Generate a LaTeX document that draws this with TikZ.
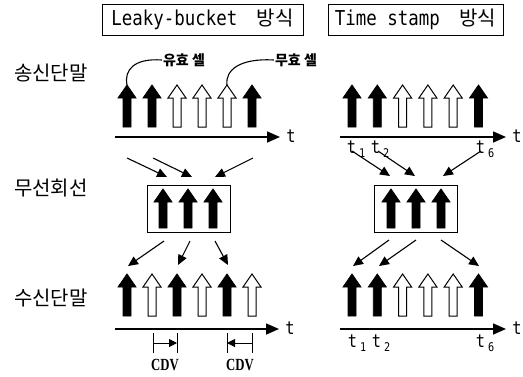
\documentclass[tikz,border=0pt]{standalone}
\usepackage{fontspec}
\usetikzlibrary{arrows.meta,calc}
\newfontfamily\kr{Noto Sans CJK KR}
\newfontfamily\monof[FakeStretch=0.85]{DejaVu Sans Mono}
\newfontfamily\cdvf[FakeStretch=0.75]{Liberation Serif}
\newcommand{\cellh}{42}
\newcommand{\tsub}[1]{t\,\raisebox{-4pt}{\fontsize{12}{12}\selectfont #1}}
\tikzset{
  pics/cell/.style={code={\path[pic actions] (0,0) -- (9,13) -- (4,13) -- (4,\cellh) -- (-4,\cellh) -- (-4,13) -- (-9,13) -- cycle;}},
  full/.style={fill=black,draw=black,line width=0.8pt,line join=miter},
  hollow/.style={fill=white,draw=black,line width=1pt,line join=miter},
  axis/.style={line width=1.6pt,-{Triangle[length=13pt,width=11pt]}},
  feed/.style={line width=1.1pt,-{Triangle[length=10pt,width=9pt]}},
  cdv/.style={line width=1pt,-{Triangle[length=8pt,width=8pt]}},
  bar/.style={line width=1pt},
  titlebox/.style={draw,line width=0.8pt,minimum height=31pt,inner sep=0pt,
    font=\monof\fontsize{20.5}{21}\selectfont},
  rowlabel/.style={font=\kr\fontsize{20}{20}\selectfont,inner sep=0pt},
  note/.style={font=\kr\bfseries\fontsize{14}{14}\selectfont,inner sep=1pt},
  tlabel/.style={font=\monof\fontsize{18}{18}\selectfont,inner sep=0pt},
  cdvtext/.style={font=\cdvf\bfseries\fontsize{17}{17}\selectfont,inner sep=0pt},
  linebox/.style={draw,line width=0.9pt,minimum width=83pt,minimum height=47pt,inner sep=0pt},
}
\begin{document}
\begin{tikzpicture}[x=1pt,y=-1pt]
\useasboundingbox (0,0) rectangle (523,376);
% titles
\node[titlebox,minimum width=201pt] (ttlL) at (202.5,19.5) {Leaky-bucket\hspace{9pt} {\kr\fontsize{20}{20}\selectfont 방식}};
\node[titlebox,minimum width=175pt] (ttlR) at (415.5,19.5) {Time stamp\hspace{9pt} {\kr\fontsize{20}{20}\selectfont 방식}};
% row labels
\node[rowlabel] (lab1) at (51,73) {송신단말};
\node[rowlabel] (lab2) at (51,188) {무선회선};
\node[rowlabel] (lab3) at (51,298) {수신단말};
% sender left
\foreach \x/\s in {127/full,152/full,177/hollow,202/hollow,227/hollow,252/full}
  \pic[\s] at (\x,85) {cell};
\coordinate (s1) at (127,85);
\coordinate (s5) at (227,85);
\node[note] (valid) at (184,60) {유효 셀};
\node[note] (invalid) at (296,60) {무효 셀};
\draw[line width=1.1pt] (valid.west) .. controls (134,58) and (124,70) .. (s1);
\draw[line width=1.1pt] (invalid.west) .. controls (240,58) and (225,70) .. (s5);
\coordinate (aL0) at (115,137);
\coordinate (aL1) at (280,137);
\draw[axis] (aL0) -- (aL1);
\node[tlabel] (tA) at (291,136) {t};
% sender right
\foreach \x/\s in {352/full,377.3/full,402.6/hollow,427.9/hollow,453.2/hollow,478.5/full}
  \pic[\s] at (\x,85) {cell};
\coordinate (aR0) at (340,137);
\coordinate (aR1) at (506,137);
\draw[axis] (aR0) -- (aR1);
\node[tlabel] (tB) at (517,136) {t};
\node[tlabel] (st1) at (356,149) {\tsub{1}};
\node[tlabel] (st2) at (380,149) {\tsub{2}};
\node[tlabel] (st6) at (485,149) {\tsub{6}};
% radio boxes
\node[linebox] (boxL) at (188.5,208.5) {};
\node[linebox] (boxR) at (415.5,208.5) {};
\begin{scope}
\renewcommand{\cellh}{39}
\foreach \x in {163,188,213,391,416,441}
  \pic[full] at (\x,189) {cell};
\end{scope}
% sender -> radio, left
\coordinate (fL1a) at (127,158); \coordinate (fL1b) at (167,177);
\coordinate (fL2a) at (153,158); \coordinate (fL2b) at (192,177);
\coordinate (fL3a) at (253,158); \coordinate (fL3b) at (215,177);
\draw[feed] (fL1a) -- (fL1b);
\draw[feed] (fL2a) -- (fL2b);
\draw[feed] (fL3a) -- (fL3b);
% sender -> radio, right
\coordinate (fR1a) at (352,151); \coordinate (fR1b) at (390,176);
\coordinate (fR2a) at (378,151); \coordinate (fR2b) at (415,176);
\coordinate (fR3a) at (481,151); \coordinate (fR3b) at (443,176);
\draw[feed] (fR1a) -- (fR1b);
\draw[feed] (fR2a) -- (fR2b);
\draw[feed] (fR3a) -- (fR3b);
% radio -> receiver, left
\coordinate (gL1a) at (164,241); \coordinate (gL1b) at (128,266);
\coordinate (gL2a) at (190,241); \coordinate (gL2b) at (178,265);
\coordinate (gL3a) at (215,241); \coordinate (gL3b) at (228,265);
\draw[feed] (gL1a) -- (gL1b);
\draw[feed] (gL2a) -- (gL2b);
\draw[feed] (gL3a) -- (gL3b);
% radio -> receiver, right
\coordinate (gR1a) at (389,240); \coordinate (gR1b) at (353,266);
\coordinate (gR2a) at (416,240); \coordinate (gR2b) at (379,266);
\coordinate (gR3a) at (441,240); \coordinate (gR3b) at (479,266);
\draw[feed] (gR1a) -- (gR1b);
\draw[feed] (gR2a) -- (gR2b);
\draw[feed] (gR3a) -- (gR3b);
% receiver left
\foreach \x/\s in {127/full,152/hollow,177/full,202/hollow,227/full,252/hollow}
  \pic[\s] at (\x,274) {cell};
\coordinate (bL0) at (115,329);
\coordinate (bL1) at (279,329);
\draw[axis] (bL0) -- (bL1);
\node[tlabel] (tC) at (290,328) {t};
% CDV marks
\coordinate (c1a) at (153,333); \coordinate (c1b) at (153,353);
\coordinate (c2a) at (177,333); \coordinate (c2b) at (177,353);
\coordinate (c3a) at (227,333); \coordinate (c3b) at (227,353);
\coordinate (c4a) at (252,333); \coordinate (c4b) at (252,353);
\draw[bar] (c1a) -- (c1b);
\draw[bar] (c2a) -- (c2b);
\draw[bar] (c3a) -- (c3b);
\draw[bar] (c4a) -- (c4b);
\draw[cdv] ($(c1a)!0.5!(c1b)$) -- ($(c2a)!0.5!(c2b)$);
\draw[cdv] ($(c4a)!0.5!(c4b)$) -- ($(c3a)!0.5!(c3b)$);
\node[cdvtext] (cdv1) at (165,365) {CDV};
\node[cdvtext] (cdv2) at (240,365) {CDV};
% receiver right
\foreach \x/\s in {352/full,377.3/full,402.6/hollow,427.9/hollow,453.2/hollow,478.5/full}
  \pic[\s] at (\x,274) {cell};
\coordinate (bR0) at (340,329);
\coordinate (bR1) at (506,329);
\draw[axis] (bR0) -- (bR1);
\node[tlabel] (tD) at (517,328) {t};
\node[tlabel] (rt1) at (357,343) {\tsub{1}};
\node[tlabel] (rt2) at (381,343) {\tsub{2}};
\node[tlabel] (rt6) at (485,343) {\tsub{6}};
\end{tikzpicture}
\end{document}
